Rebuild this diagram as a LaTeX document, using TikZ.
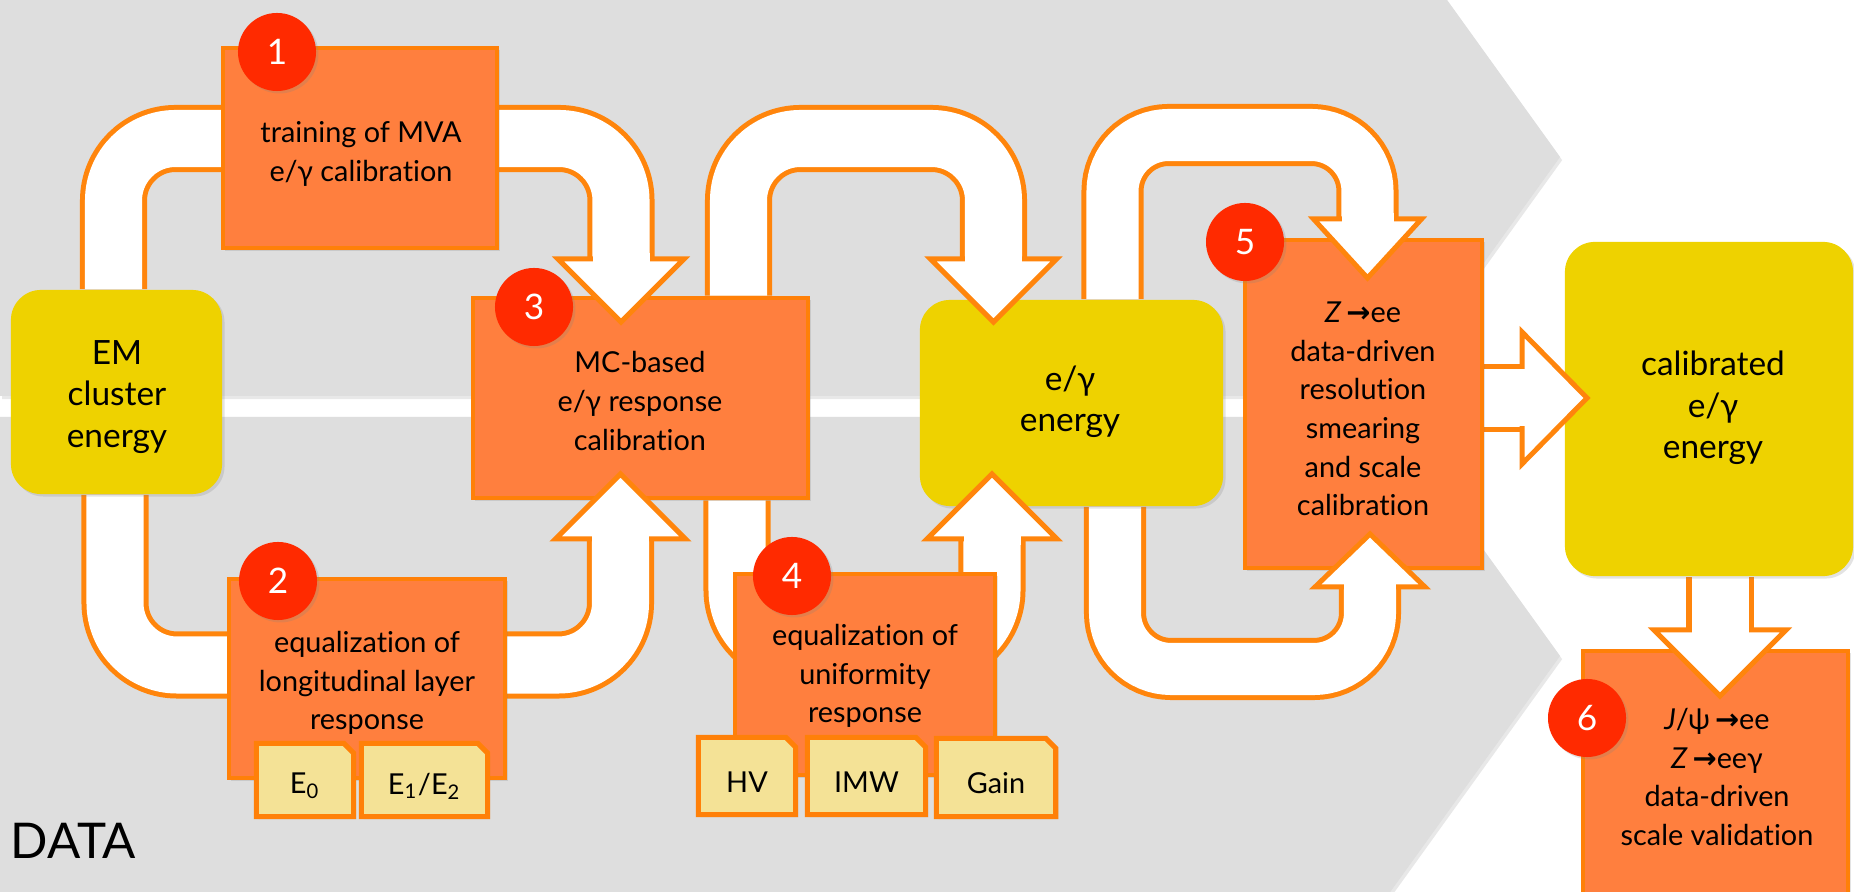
\documentclass[tikz,border=0pt]{standalone}
\usepackage{fontspec}
\setmainfont{Lato}[Ligatures={NoCommon,NoRare,NoContextual}]
\newfontfamily\symfont{DejaVu Sans}
\usetikzlibrary{calc,shadows}
\pgfdeclarelayer{bg}
\pgfdeclarelayer{shafts}
\pgfsetlayers{bg,shafts,main}

\definecolor{bggray}{RGB}{222,222,222}
\definecolor{boxfill}{RGB}{255,127,62}
\definecolor{boxline}{RGB}{255,128,8}
\definecolor{arrline}{RGB}{255,133,12}
\definecolor{yel}{RGB}{238,210,0}
\definecolor{tagfill}{RGB}{244,226,150}
\definecolor{badgered}{RGB}{255,42,0}

% reaction arrow used in the decay labels
\newcommand\zarrow{\,{\symfont\bfseries →}}

% fat arrow heads: #1 tip coordinate, #2 half width, #3 length, #4 half width of the white shaft
\newcommand\headdown[4]{%
  \filldraw[head] ($(#1)+(-#2,-#3)$) -- (#1) -- ($(#1)+(#2,-#3)$) -- cycle;
  \fill[white] ($(#1)+(-#4,-#3-6)$) rectangle ($(#1)+(#4,-#3+4)$);}
\newcommand\headup[4]{%
  \filldraw[head] ($(#1)+(-#2,#3)$) -- (#1) -- ($(#1)+(#2,#3)$) -- cycle;
  \fill[white] ($(#1)+(-#4,#3-4)$) rectangle ($(#1)+(#4,#3+6)$);}
\newcommand\headright[4]{%
  \filldraw[head] ($(#1)+(-#3,-#2)$) -- (#1) -- ($(#1)+(-#3,#2)$) -- cycle;
  \fill[white] ($(#1)+(-#3-6,-#4)$) rectangle ($(#1)+(-#3+4,#4)$);}
% dog-eared input card drawn on the frame of node #1
\newcommand\tagcard[1]{%
  \filldraw[tagline] (#1.south west) -- (#1.north west) -- ($(#1.north east)+(-10,0)$)
    -- ($(#1.north east)+(0,10)$) -- (#1.south east) -- cycle;}

\begin{document}
\begin{tikzpicture}[x=0.01cm,y=-0.01cm,
  shadowed/.style={drop shadow={shadow xshift=0.7pt,shadow yshift=-0.7pt,opacity=0.22}},
  chevshadow/.style={drop shadow={shadow xshift=0.6pt,shadow yshift=-0.9pt,opacity=0.18}},
  obox/.style={draw=boxline,fill=boxfill,line width=0.045cm,inner sep=0pt,shadowed},
  ybox/.style={fill=yel,rounded corners=0.3cm,inner sep=0pt,shadowed},
  tagbox/.style={inner sep=0pt},
  tagline/.style={draw=boxline,fill=tagfill,line width=0.05cm,line join=miter,shadowed},
  badge/.style={circle,fill=badgered,minimum size=0.78cm,inner sep=0pt,text=white,
    font=\fontsize{10}{12}\selectfont,shadowed},
  otext/.style={align=center,inner sep=0pt,font=\fontsize{8.2}{11}\selectfont},
  ytext/.style={align=center,inner sep=0pt,font=\fontsize{9.5}{11.8}\selectfont},
  tagtext/.style={inner sep=0pt,font=\fontsize{8.2}{10}\selectfont},
  shaft/.style={draw=white,line width=0.57cm,rounded corners=0.62cm,
    preaction={draw=arrline,line width=0.67cm}},
  thinshaft/.style={draw=white,line width=0.52cm,rounded corners=0.56cm,
    preaction={draw=arrline,line width=0.62cm}},
  head/.style={fill=white,draw=arrline,line width=0.05cm,line join=miter},
]
\useasboundingbox (0,0) rectangle (1854,892);

% two grey chevron bands behind the chain
\begin{pgfonlayer}{bg}
  \fill[white] (0,0) rectangle (1854,892);
  \fill[bggray,chevshadow] (0,-82) -- (1388,-82) -- (1560,157) -- (1388,396) -- (0,396) -- cycle;
  \fill[bggray,chevshadow] (0,417) -- (1388,417) -- (1560,656) -- (1388,895) -- (0,895) -- cycle;
\end{pgfonlayer}

% arrow tips
\coordinate (tipA) at (621,322);
\coordinate (tipB) at (620.5,474);
\coordinate (tipC) at (993.5,322);
\coordinate (tipD) at (992,474);
\coordinate (tipE) at (1367.5,278);
\coordinate (tipF) at (1370,534);
\coordinate (tipG) at (1587,398);
\coordinate (tipH) at (1720,696);

% energy stages
\node[ybox,minimum width=2.11cm,minimum height=2.04cm] (em) at (116.5,392) {};
\node[ybox,minimum width=3.03cm,minimum height=2.06cm] (ey) at (1071.5,403) {};
\node[ybox,minimum width=2.88cm,minimum height=3.34cm] (cal) at (1709,409) {};

% calibration steps
\node[obox,minimum width=2.74cm,minimum height=2.00cm] (b1) at (360,148) {};
\node[obox,minimum width=2.76cm,minimum height=1.99cm] (b2) at (367,678.5) {};
\node[obox,minimum width=3.35cm,minimum height=2.00cm] (b3) at (640.5,398) {};
\node[obox,minimum width=2.60cm,minimum height=2.01cm] (b4) at (865,674.5) {};
\node[obox,minimum width=2.37cm,minimum height=3.28cm] (b5) at (1363.5,404) {};
\node[obox,minimum width=2.65cm,minimum height=2.54cm] (b6) at (1715.5,778) {};

% inputs of steps 2 and 4
\node[tagbox,minimum width=0.96cm,minimum height=0.72cm] (e0) at (305,780) {};
\node[tagbox,minimum width=1.25cm,minimum height=0.72cm] (e12) at (424.5,780) {};
\node[tagbox,minimum width=0.96cm,minimum height=0.76cm] (hv) at (747,776) {};
\node[tagbox,minimum width=1.17cm,minimum height=0.76cm] (imw) at (866.5,776) {};
\node[tagbox,minimum width=1.18cm,minimum height=0.77cm] (gain) at (996,777.5) {};
\tagcard{e0}\tagcard{e12}\tagcard{hv}\tagcard{imw}\tagcard{gain}

% white fat connectors
\begin{pgfonlayer}{shafts}
  \draw[shaft] (113.5,0 |- em.north) -- (113.5,138.5) -- (621,138.5) -- ($(tipA)+(0,-60)$);
  \draw[shaft] (115,0 |- em.south) -- (115,665) -- (620.5,665) -- ($(tipB)+(0,61)$);
  \draw[shaft] (738.5,0 |- b3.north) -- (738.5,138.5) -- (993.5,138.5) -- ($(tipC)+(0,-60)$);
  \draw[shaft] (737,0 |- b3.south) -- (737,652) -- (992,652) -- ($(tipD)+(0,61)$);
  \draw[thinshaft] (1112.5,0 |- ey.north) -- (1112.5,135) -- (1367.5,135) -- ($(tipE)+(0,-55)$);
  \draw[thinshaft] (1115,0 |- ey.south) -- (1115,669) -- (1370,669) -- ($(tipF)+(0,50)$);
  \draw[shaft] (b5.east |- tipG) -- ($(tipG)+(-60,0)$);
  \draw[shaft] (1720,0 |- cal.south) -- ($(tipH)+(0,-62)$);
\end{pgfonlayer}

\headdown{tipA}{63}{63}{28.5}
\headup{tipB}{65}{65}{28.5}
\headdown{tipC}{63}{63}{28.5}
\headup{tipD}{65}{65}{28.5}
\headdown{tipE}{54}{59}{26}
\headup{tipF}{55}{53}{26}
\headright{tipG}{66}{65}{28.5}
\headdown{tipH}{66}{66}{28.5}

% texts
\node[ytext] (tem) at (117,397) {EM\\cluster\\energy};
\node[ytext] (tey) at (1070,402) {e/γ\\energy};
\node[ytext] (tcal) at (1713,408) {calibrated\\e/γ\\energy};
\node[otext] (t1) at (361,154) {training of MVA\\e/γ calibration};
\node[otext] (t2) at (367,683) {equalization of\\longitudinal layer\\response};
\node[otext] (t3) at (640,401) {MC-based\\e/γ response\\calibration};
\node[otext] (t4) at (865,676) {equalization of\\uniformity\\response};
\node[otext] (t5) at (1363,409) {\textit{Z}\zarrow ee\\data-driven\\resolution\\smearing\\and scale\\calibration};
\node[otext] (t6) at (1717,777) {\textit{J}/ψ\zarrow ee\\\textit{Z}\zarrow eeγ\\data-driven\\scale validation};

\node[tagtext] (te0) at ($(e0.center)+(0,6)$) {E\textsubscript{0}};
\node[tagtext] (te12) at ($(e12.center)+(0,6)$) {E\textsubscript{1}/E\textsubscript{2}};
\node[tagtext] (thv) at ($(hv.center)+(0,6)$) {HV};
\node[tagtext] (timw) at ($(imw.center)+(0,6)$) {IMW};
\node[tagtext] (tgain) at ($(gain.center)+(0,6)$) {Gain};

% step numbers
\node[badge] (n1) at (277,52) {1};
\node[badge] (n2) at (278,581) {2};
\node[badge] (n3) at (534,307) {3};
\node[badge] (n4) at (792,576) {4};
\node[badge] (n5) at (1245,242) {5};
\node[badge] (n6) at (1587,718) {6};

\node[anchor=base west,inner sep=0pt,font=\fontsize{14}{16}\selectfont] (data) at (10,859) {DATA};
\end{tikzpicture}
\end{document}
